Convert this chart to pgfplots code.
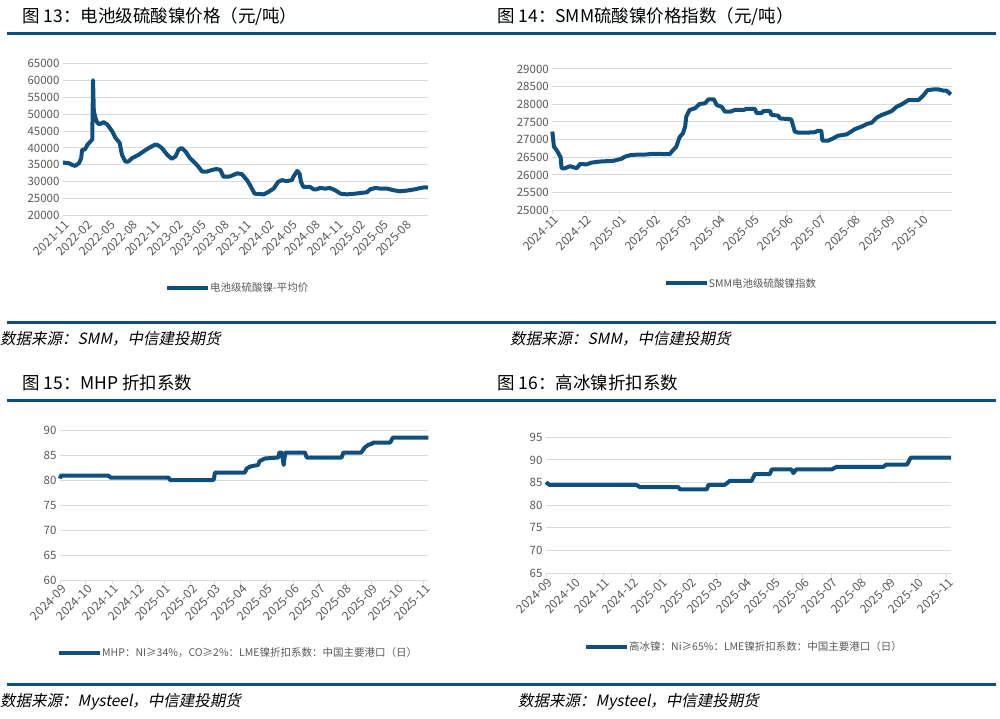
\documentclass[border=0pt]{standalone}
\usepackage{fontspec}
\setmainfont{Noto Sans CJK SC}
\newfontfamily\cjkit[FakeSlant=0.2]{Noto Sans CJK SC}
\usepackage{pgfplots}
\pgfplotsset{compat=1.18}
\definecolor{cblue}{RGB}{14,79,126}
\definecolor{tgray}{RGB}{89,89,89}
\definecolor{ggray}{RGB}{217,217,217}

\pgfplotsset{
  panel/.style={
    scale only axis, anchor=north west, clip=false,
    axis x line*=bottom, axis y line*=left,
    y axis line style={draw=none},
    x axis line style={draw=ggray, line width=1pt},
    ymajorgrids, grid style={ggray, line width=1pt},
    ytick style={draw=none},
    xtick style={draw=ggray, line width=1pt},
    xtick align=outside, major tick length=4pt,
    scaled y ticks=false,
    tick label style={font=\fontsize{11.5}{13}\selectfont, text=tgray},
    xticklabel style={font=\fontsize{12}{13}\selectfont, rotate=45, anchor=east, inner sep=1pt, yshift=-5pt, xshift=2pt},
    /pgf/number format/assume math mode=true,
    /pgf/number format/set thousands separator={},
  },
  ln/.style={cblue, line width=4pt, line join=round, no marks},
}
\newcommand{\legtext}[2]{%
  \draw[cblue, line width=4pt] (#1) -- ++(41pt,0pt);
  \node[anchor=west, inner sep=0pt, text=tgray, font=\fontsize{10.5}{12}\selectfont] at ([xshift=43pt]#1) {#2};}

\begin{document}
\begin{tikzpicture}
\path[use as bounding box] (0pt,0pt) rectangle (1000pt,-719pt);

% rules
\fill[cblue] (7pt,-32.5pt) rectangle (996pt,-35.5pt);
\fill[cblue] (7pt,-320.5pt) rectangle (996pt,-323.5pt);
\fill[cblue] (7pt,-399pt) rectangle (996pt,-402pt);
\fill[cblue] (7pt,-682.5pt) rectangle (996pt,-685.5pt);

% titles
\begin{scope}[every node/.style={anchor=west, inner sep=0pt, font=\fontsize{17.5}{19}\selectfont}]
\node at (22pt,-17pt) {图 13：电池级硫酸镍价格（元/吨）};
\node at (497pt,-17pt) {图 14：SMM硫酸镍价格指数（元/吨）};
\node at (22pt,-383pt) {图 15：MHP 折扣系数};
\node at (497pt,-383pt) {图 16：高冰镍折扣系数};
\end{scope}

% sources
\begin{scope}[every node/.style={anchor=west, inner sep=0pt, font=\cjkit\fontsize{15.5}{17}\selectfont}]
\node at (0pt,-339pt) {数据来源：SMM，中信建投期货};
\node at (510pt,-339pt) {数据来源：SMM，中信建投期货};
\node at (0pt,-702pt) {数据来源：Mysteel，中信建投期货};
\node at (518pt,-702pt) {数据来源：Mysteel，中信建投期货};
\end{scope}

% panel 1
\begin{axis}[panel, at={(63pt,-63.3pt)}, width=365pt, height=152.4pt,
  xmin=0, xmax=48, ymin=20000, ymax=65000, ytick distance=5000,
  xtick={0,3,...,45}, xtick style={draw=none},
  xticklabels={2021-11,2022-02,2022-05,2022-08,2022-11,2023-02,2023-05,2023-08,2023-11,2024-02,2024-05,2024-08,2024-11,2025-02,2025-05,2025-08}]
\addplot[ln] coordinates {(0,35700) (0.75,35500) (1.2,35000) (1.6,34700) (2.1,35500) (2.4,37000) (2.5,39400) (2.9,39600) (3.2,40900) (3.6,41900) (3.85,42500) (3.95,60000) (4.05,51000) (4.15,50000) (4.25,49000) (4.5,47500) (4.8,47000) (5.35,47600) (5.8,47000) (6.45,45000) (6.9,43000) (7.45,41500) (7.75,38000) (8.2,36000) (8.6,36000) (9.1,37000) (9.95,38000) (10.6,39000) (11.3,40000) (12.1,41000) (12.5,40800) (13.0,40000) (13.7,38000) (14.3,36800) (14.8,37500) (15.2,39500) (15.6,40000) (16.1,39000) (16.7,37000) (17.4,35500) (17.8,34500) (18.3,33000) (18.9,33000) (19.6,33500) (20.2,33800) (20.7,33500) (21.1,31500) (21.8,31500) (22.4,32000) (22.9,32500) (23.5,32300) (24.2,30500) (24.6,29000) (25.2,26500) (26.4,26300) (27.0,27000) (27.7,28000) (28.3,30000) (28.8,30500) (29.4,30200) (30.1,30500) (30.3,31500) (30.8,33200) (31.1,32500) (31.3,30000) (31.6,28500) (32.5,28500) (32.95,27800) (33.4,27800) (33.8,28200) (34.5,28000) (35.1,28200) (35.8,27500) (36.5,26500) (37.3,26300) (38.4,26500) (39.5,26800) (39.96,26900) (40.4,27800) (41.1,28200) (41.7,28000) (42.6,28000) (43.5,27500) (44.3,27200) (45.2,27400) (46.3,27800) (47.1,28200) (47.6,28400) (48.0,28300)};
\end{axis}
\legtext{167pt,-288pt}{电池级硫酸镍-平均价}

% panel 2
\begin{axis}[panel, at={(552.3pt,-69pt)}, width=399.4pt, height=141.3pt,
  xmin=0, xmax=360.8, ymin=25000, ymax=29000, ytick distance=500,
  xtick={0,30,61,92,120,151,181,212,242,273,304,334},
  xticklabels={2024-11,2024-12,2025-01,2025-02,2025-03,2025-04,2025-05,2025-06,2025-07,2025-08,2025-09,2025-10}]
\addplot[ln] coordinates {(0,27230) (1.5,26800) (4,26700) (7.5,26500) (8.4,26190) (11.4,26190) (16,26250) (19,26220) (22,26190) (25,26310) (31,26300) (35.5,26350) (43,26380) (55,26400) (62.7,26460) (65.7,26520) (71.7,26570) (85,26580) (91,26600) (97,26600) (100,26590) (106,26590) (109,26700) (112,26800) (115,27070) (118,27180) (120,27370) (121,27650) (124,27840) (129,27890) (133,28010) (138,28030) (141,28140) (146,28140) (148.5,27980) (153,27930) (156,27790) (160.5,27790) (165,27840) (172.6,27840) (175.6,27870) (183,27870) (184.6,27750) (189,27750) (190.7,27810) (196.7,27810) (198,27700) (204,27680) (205.7,27600) (214.8,27580) (216,27560) (219,27230) (222,27200) (231,27200) (237,27210) (240,27250) (243,27250) (244,26970) (249,26970) (254,27040) (258,27110) (266,27150) (270,27230) (273.5,27300) (279.5,27370) (284,27440) (288.5,27480) (293,27620) (297.6,27700) (302,27750) (306.6,27810) (311,27930) (315.7,28000) (321.7,28120) (330.7,28120) (335,28245) (338.9,28400) (344,28420) (349,28420) (353,28390) (356,28390) (357.8,28340) (360,28280)};
\end{axis}
\legtext{665.7pt,-283pt}{SMM电池级硫酸镍指数}

% panel 3
\begin{axis}[panel, at={(60pt,-430pt)}, width=368.3pt, height=150pt,
  xmin=0, xmax=431.5, ymin=60, ymax=90, ytick distance=5,
  xtick={0,30,61,91,122,153,181,212,242,273,303,334,365,395,426},
  xticklabels={2024-09,2024-10,2024-11,2024-12,2025-01,2025-02,2025-03,2025-04,2025-05,2025-06,2025-07,2025-08,2025-09,2025-10,2025-11}]
\addplot[ln] coordinates {(0,80.3) (1,80.9) (56.6,80.9) (59,80.5) (127,80.5) (129,80.0) (180,80.0) (181.6,81.5) (216.7,81.5) (218.7,82.3) (223,82.7) (232,83.0) (234,83.8) (240,84.3) (255.8,84.5) (257,85.5) (260,85.5) (262,83.0) (264,85.5) (287,85.5) (289,84.5) (330,84.5) (332,85.5) (353,85.5) (357,86.5) (361,87.0) (366,87.3) (367,87.5) (387,87.5) (390,88.5) (431.5,88.5)};
\end{axis}
\legtext{59pt,-653pt}{MHP：NI≥34\%，CO≥2\%：LME镍折扣系数：中国主要港口（日）}

% panel 4
\begin{axis}[panel, at={(546pt,-437.3pt)}, width=405pt, height=136pt,
  xmin=0, xmax=430.6, ymin=65, ymax=95, ytick distance=5,
  xtick={0,30,61,91,122,153,181,212,242,273,303,334,365,395,426},
  xticklabels={2024-09,2024-10,2024-11,2024-12,2025-01,2025-02,2025-03,2025-04,2025-05,2025-06,2025-07,2025-08,2025-09,2025-10,2025-11}]
\addplot[ln] coordinates {(0,85.1) (3.5,84.5) (96,84.5) (100,84.0) (140.7,84.0) (142.5,83.5) (171,83.5) (172.6,84.5) (190,84.5) (195.6,85.4) (218.7,85.4) (222,86.9) (238,86.9) (240,87.9) (261,87.9) (263,87.1) (266,87.9) (303.7,87.9) (309,88.5) (358.7,88.5) (362,89.0) (384,89.0) (387.7,90.5) (430.6,90.5)};
\end{axis}
\legtext{586pt,-647pt}{高冰镍：Ni≥65\%：LME镍折扣系数：中国主要港口（日）}
\end{tikzpicture}
\end{document}
